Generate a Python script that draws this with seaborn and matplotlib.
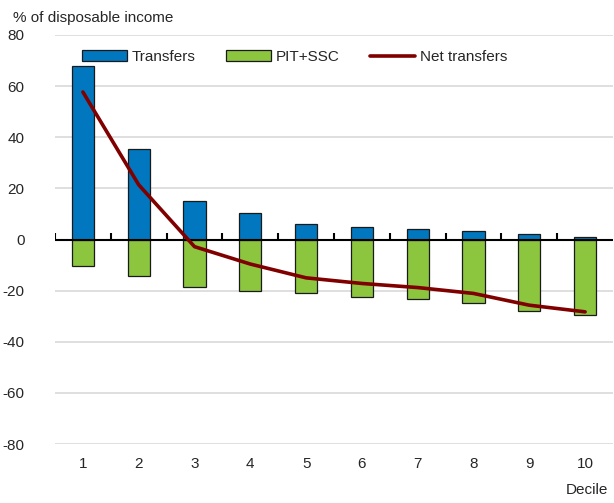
import matplotlib
matplotlib.use("Agg")
import matplotlib.pyplot as plt
import seaborn as sns
import pandas as pd
import numpy as np
from matplotlib.patches import Patch
from matplotlib.lines import Line2D

deciles = ["1", "2", "3", "4", "5", "6", "7", "8", "9", "10"]
transfers = [67.8, 35.5, 15.2, 10.3, 6.1, 5.0, 4.1, 3.4, 2.1, 1.1]
pit_ssc = [-10.3, -14.1, -18.4, -20.0, -21.1, -22.4, -23.3, -24.8, -27.8, -29.5]
net_transfers = [57.7, 21.4, -2.8, -9.6, -15.0, -17.2, -18.8, -21.1, -25.7, -28.3]
y_ticks = [-80, -60, -40, -20, 0, 20, 40, 60, 80]

sns.set_theme(style="white")
plt.rcParams["font.family"] = ["Liberation Sans", "DejaVu Sans"]

BLUE = "#0077BE"
GREEN = "#8CC63F"
RED = "#800000"
FS = 11

df = pd.DataFrame({"Decile": deciles, "Transfers": transfers,
                   "PIT+SSC": pit_ssc, "Net": net_transfers})

fig = plt.figure(figsize=(6.14, 5.03), dpi=100)
ax = fig.add_axes([55/614, 1-444/503, (613-55)/614, (444-35)/503])

sns.barplot(data=df, x="Decile", y="Transfers", order=deciles, color=BLUE,
            width=0.4, edgecolor="#1a1a1a", linewidth=0.9, saturation=1, ax=ax, zorder=3)
sns.barplot(data=df, x="Decile", y="PIT+SSC", order=deciles, color=GREEN,
            width=0.4, edgecolor="#1a1a1a", linewidth=0.9, saturation=1, ax=ax, zorder=3)
sns.lineplot(x=np.arange(len(deciles)), y=df["Net"], color=RED, linewidth=2.6,
             ax=ax, zorder=5)

ax.set_xlim(-0.5, len(deciles) - 0.5)
ax.set_ylim(-80, 80)
ax.set_yticks(y_ticks)
ax.set_yticklabels([str(v) for v in y_ticks], fontsize=FS)
ax.set_xticks(range(len(deciles)))
ax.set_xticklabels(deciles, fontsize=FS)
ax.tick_params(axis="both", length=0)
ax.tick_params(axis="y", pad=22)
ax.tick_params(axis="x", pad=9)
for s in ax.spines.values():
    s.set_visible(False)
ax.grid(axis="y", color="#D9D9D9", linewidth=1.2, zorder=0)
ax.set_axisbelow(True)
ax.set_xlabel("")
ax.set_ylabel("")

# zero line with category boundary ticks
ax.axhline(0, color="black", linewidth=1.5, zorder=4)
bounds = np.arange(len(deciles) + 1) - 0.5
ax.vlines(bounds[:-1], 0, 2.4, color="black", linewidth=1.5, zorder=4)

handles = [Patch(facecolor=BLUE, edgecolor="#1a1a1a", linewidth=0.9, label="Transfers"),
           Patch(facecolor=GREEN, edgecolor="#1a1a1a", linewidth=0.9, label="PIT+SSC"),
           Line2D([0], [0], color=RED, linewidth=2.6, label="Net transfers")]
leg = ax.legend(handles=handles, loc="upper left", ncol=3, frameon=False,
                fontsize=FS, bbox_to_anchor=(0.038, 0.978), handlelength=2.9,
                handleheight=0.75, columnspacing=2.0, handletextpad=0.35,
                borderaxespad=0)
leg.set_zorder(6)

fig.text(13/614, 1-18/503, "% of disposable income", fontsize=FS, ha="left", va="center")
fig.text(1-6/614, 1-490/503, "Decile", fontsize=FS, ha="right", va="center")

fig.savefig("out.png", dpi=100)
